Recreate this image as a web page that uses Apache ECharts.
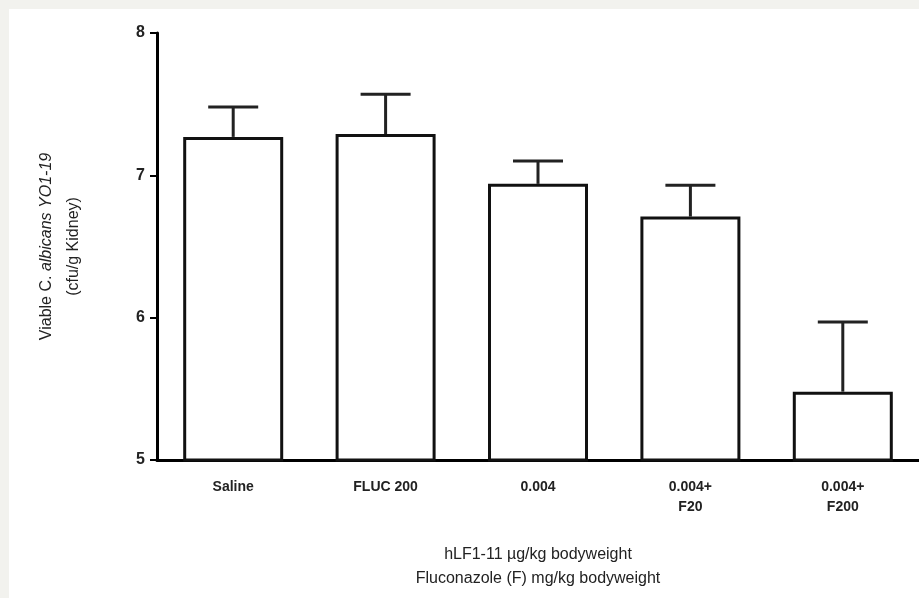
<!DOCTYPE html>
<html>
    <head>
        <meta charset="utf-8">
        <title>Viable C. albicans</title>
        <script src="https://cdn.jsdelivr.net/npm/echarts@6/dist/echarts.min.js"></script>
        <style>
            html, body { margin: 0; padding: 0; background: #f2f2ee; }
            #chart1 { position: absolute; left: 9px; top: 9px; width: 910px; height: 589px; background: #fff; }
        </style>
    </head>
    <body>
        <div id="chart1"></div>
    </body>
    <script>
        // 数据
        var categories = ['Saline', 'FLUC 200', '0.004', '0.004+\nF20', '0.004+\nF200'];
        var means = [7.27, 7.29, 6.94, 6.71, 5.48];
        var errors = [0.21, 0.28, 0.16, 0.22, 0.49];
        var yTicks = [5, 6, 7, 8];

        var myChart = echarts.init(document.getElementById('chart1'));

        var errData = means.map(function (m, i) { return [i, m, errors[i]]; });

        myChart.setOption({
            animation: false,
            grid: { left: 148, right: 0, top: 24, bottom: 138, outerBoundsMode: 'none', containLabel: false },
            xAxis: {
                type: 'category',
                data: categories,
                axisLine: { lineStyle: { color: '#000', width: 3 } },
                axisTick: { alignWithLabel: true, length: 5, lineStyle: { color: '#000', width: 2 } },
                axisLabel: {
                    color: '#222', fontFamily: 'Liberation Sans, Arial', fontWeight: 'bold',
                    fontSize: 14, lineHeight: 20, margin: 17
                },
                name: 'hLF1-11 \u00b5g/kg bodyweight\nFluconazole (F) mg/kg bodyweight',
                nameLocation: 'middle',
                nameGap: 83,
                nameTextStyle: { color: '#222', fontFamily: 'Liberation Sans, Arial', fontSize: 16, lineHeight: 24 }
            },
            yAxis: {
                type: 'value',
                min: yTicks[0],
                max: yTicks[yTicks.length - 1],
                interval: 1,
                splitLine: { show: false },
                axisLine: { show: true, lineStyle: { color: '#000', width: 3 } },
                axisTick: { show: true, length: 7, lineStyle: { color: '#000', width: 2 } },
                axisLabel: {
                    color: '#222', fontFamily: 'Liberation Sans, Arial', fontWeight: 'bold',
                    fontSize: 16, margin: 12
                },
                name: '{n|Viable C. }{i|albicans YO1-19}\n{n|(cfu/g Kidney)}',
                nameLocation: 'middle',
                nameGap: 70,
                nameTextStyle: {
                    color: '#222', fontFamily: 'Liberation Sans, Arial', fontSize: 16, lineHeight: 27,
                    rich: {
                        n: { color: '#222', fontFamily: 'Liberation Sans, Arial', fontSize: 16, lineHeight: 27 },
                        i: { color: '#222', fontFamily: 'Liberation Sans, Arial', fontSize: 16, lineHeight: 27, fontStyle: 'italic' }
                    }
                }
            },
            series: [{
                type: 'bar',
                data: means,
                barWidth: 100,
                itemStyle: { color: '#fff', borderColor: '#111', borderWidth: 3 },
                z: 3
            }, {
                type: 'custom',
                data: errData,
                z: 4,
                renderItem: function (params, api) {
                    var i = api.value(0);
                    var base = api.coord([i, api.value(1)]);
                    var top = api.coord([i, api.value(1) + api.value(2)]);
                    var half = 25;
                    var style = { stroke: '#222', lineWidth: 3 };
                    return {
                        type: 'group',
                        children: [
                            { type: 'line', shape: { x1: base[0], y1: base[1], x2: top[0], y2: top[1] }, style: style },
                            { type: 'line', shape: { x1: top[0] - half, y1: top[1], x2: top[0] + half, y2: top[1] }, style: style }
                        ]
                    };
                }
            }]
        });
    </script>
</html>
